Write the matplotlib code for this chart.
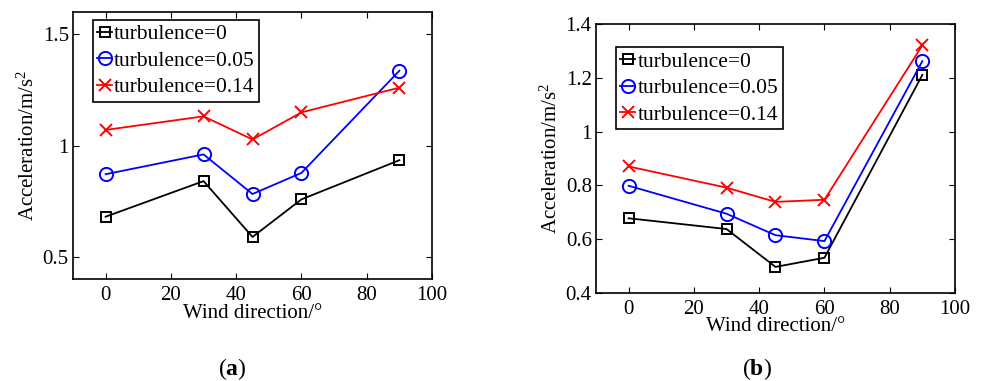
import matplotlib
matplotlib.use('Agg')
import matplotlib.pyplot as plt

plt.rcParams['font.family'] = 'serif'
plt.rcParams['font.serif'] = ['Liberation Serif', 'DejaVu Serif']
plt.rcParams['mathtext.fontset'] = 'custom'
plt.rcParams['mathtext.rm'] = 'Liberation Serif'
plt.rcParams['mathtext.it'] = 'Liberation Serif:italic'
plt.rcParams['mathtext.bf'] = 'Liberation Serif:bold'

# Wind directions (degrees)
directions = [0, 30, 45, 60, 90]

# Panel (a) accelerations
a_turb0 = [0.68, 0.84, 0.589, 0.758, 0.934]
a_turb005 = [0.871, 0.96, 0.782, 0.877, 1.336]
a_turb014 = [1.07, 1.131, 1.027, 1.149, 1.26]

# Panel (b) accelerations
b_turb0 = [0.677, 0.637, 0.496, 0.53, 1.211]
b_turb005 = [0.798, 0.694, 0.614, 0.592, 1.262]
b_turb014 = [0.87, 0.791, 0.738, 0.746, 1.321]

labels = ['turbulence=0', 'turbulence=0.05', 'turbulence=0.14']
x_ticks = [0, 20, 40, 60, 80, 100]

fig = plt.figure(figsize=(9.81, 3.81), dpi=100)


def draw_panel(ax, series, ylim, yticks, yticklabels, legend_loc):
    styles = [('k', 's', 7.5), ('b', 'o', 9.5), ('r', 'x', 9)]
    for vals, (c, m, ms), lab in zip(series, styles, labels):
        ax.plot(directions, vals, color=c, marker=m, markersize=ms,
                markerfacecolor='none', markeredgewidth=1.4, linewidth=1.3, label=lab)
    ax.set_xlim(-10, 100)
    ax.set_ylim(*ylim)
    ax.set_xticks(x_ticks)
    ax.set_yticks(yticks)
    ax.set_yticklabels(yticklabels)
    ax.tick_params(direction='in', top=True, right=True, labelsize=15,
                   length=4, width=0.8)
    ax.tick_params(axis='x', pad=5)
    ax.tick_params(axis='y', pad=3)
    for s in ax.spines.values():
        s.set_linewidth(1.2)
    ax.set_xlabel('Wind direction/°', fontsize=15, labelpad=-1)
    ax.set_ylabel('Acceleration/m/s$^2$', fontsize=15, labelpad=3)
    leg = ax.legend(loc='upper left', bbox_to_anchor=legend_loc, fontsize=15.5,
                    handlelength=0.7, handletextpad=0.1, borderpad=0.2,
                    labelspacing=0.3, fancybox=False, framealpha=1,
                    edgecolor='k', borderaxespad=0)
    leg.get_frame().set_linewidth(1.2)


ax1 = fig.add_axes([0.0744, 0.2677, 0.366, 0.7008])
draw_panel(ax1, [a_turb0, a_turb005, a_turb014], (0.4, 1.6), [0.5, 1.0, 1.5],
           ['0.5', '1', '1.5'], (0.055, 0.97))

ax2 = fig.add_axes([0.6075, 0.2318, 0.366, 0.705])
draw_panel(ax2, [b_turb0, b_turb005, b_turb014], (0.4, 1.4),
           [0.4, 0.6, 0.8, 1.0, 1.2, 1.4], ['0.4', '0.6', '0.8', '1', '1.2', '1.4'],
           (0.056, 0.914))

fig.text(232 / 981, 1 - 369 / 381, r'($\mathbf{a}$)', fontsize=17, ha='center', va='center')
fig.text(757 / 981, 1 - 369 / 381, r'($\mathbf{b}$)', fontsize=17, ha='center', va='center')

fig.savefig('out.png', dpi=100)
